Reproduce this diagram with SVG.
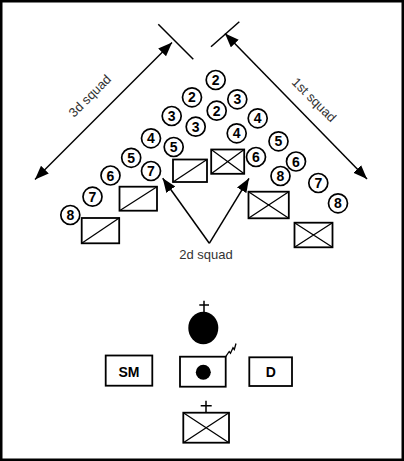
<svg xmlns="http://www.w3.org/2000/svg" width="404" height="461" viewBox="0 0 404 461">
<style>
.c{fill:#fff;stroke:#000;stroke-width:1.7}
.n{font-family:"Liberation Sans",Arial,sans-serif;font-weight:bold;font-size:14px;text-anchor:middle;fill:#000}
.b{fill:#fff;stroke:#000;stroke-width:1.8}
.x{stroke:#000;stroke-width:1.3;fill:none}
.l{stroke:#000;stroke-width:1.5;fill:none}
.t{font-family:"Liberation Sans",Arial,sans-serif;font-size:13px;text-anchor:middle;fill:#333}
.lb{font-family:"Liberation Sans",Arial,sans-serif;font-weight:bold;font-size:14px;text-anchor:middle;fill:#000}
</style>
<defs>
<marker id="ah" markerUnits="userSpaceOnUse" markerWidth="16" markerHeight="12" refX="14" refY="5.5" orient="auto-start-reverse">
<path d="M0,0 L14,5.5 L0,11 z" fill="#000"/>
</marker>
</defs>
<rect x="1.25" y="1.25" width="401.5" height="458.5" fill="#fff" stroke="#000" stroke-width="2.5"/>

<g id="connectors">
<line class="l" x1="158.3" y1="24.3" x2="193.3" y2="59.3"/>
<line class="l" x1="239.3" y1="21.7" x2="211" y2="46.7"/>
<line class="l" x1="35" y1="179.5" x2="172" y2="42.5" marker-start="url(#ah)" marker-end="url(#ah)"/>
<line class="l" x1="225" y1="33.5" x2="367" y2="179" marker-start="url(#ah)" marker-end="url(#ah)"/>
<line class="l" x1="209.3" y1="243.3" x2="162.7" y2="178.3" marker-end="url(#ah)"/>
<line class="l" x1="209.3" y1="243.3" x2="249" y2="178.3" marker-end="url(#ah)"/>
</g>

<g id="labels">
<text class="t" x="93" y="99" transform="rotate(-45 93 99)">3d squad</text>
<text class="t" x="311" y="103" transform="rotate(45 311 103)">1st squad</text>
<text class="t" x="206" y="259">2d squad</text>
</g>

<g id="soldiers">
<g id="s1"><circle class="c" cx="215.7" cy="80" r="9.5"/><text class="n" x="215.7" y="85">2</text></g>
<g id="s2"><circle class="c" cx="192" cy="97.3" r="9.5"/><text class="n" x="192" y="102.3">2</text></g>
<g id="s3"><circle class="c" cx="237.3" cy="99.3" r="9.5"/><text class="n" x="237.3" y="104.3">3</text></g>
<g id="s4"><circle class="c" cx="171.7" cy="116" r="9.5"/><text class="n" x="171.7" y="121">3</text></g>
<g id="s5"><circle class="c" cx="216.7" cy="110.7" r="9.5"/><text class="n" x="216.7" y="115.7">2</text></g>
<g id="s6"><circle class="c" cx="195.7" cy="126.7" r="9.5"/><text class="n" x="195.7" y="131.7">3</text></g>
<g id="s7"><circle class="c" cx="257.7" cy="118.3" r="9.5"/><text class="n" x="257.7" y="123.3">4</text></g>
<g id="s8"><circle class="c" cx="151" cy="138.3" r="9.5"/><text class="n" x="151" y="143.3">4</text></g>
<g id="s9"><circle class="c" cx="236.7" cy="133.3" r="9.5"/><text class="n" x="236.7" y="138.3">4</text></g>
<g id="s10"><circle class="c" cx="278.5" cy="141.3" r="9.5"/><text class="n" x="278.5" y="146.3">5</text></g>
<g id="s11"><circle class="c" cx="173.7" cy="147" r="9.5"/><text class="n" x="173.7" y="152">5</text></g>
<g id="s12"><circle class="c" cx="131.2" cy="157.8" r="9.5"/><text class="n" x="131.2" y="162.8">5</text></g>
<g id="s13"><circle class="c" cx="256" cy="157" r="9.5"/><text class="n" x="256" y="162">6</text></g>
<g id="s14"><circle class="c" cx="296" cy="161.5" r="9.5"/><text class="n" x="296" y="166.5">6</text></g>
<g id="s15"><circle class="c" cx="151" cy="171" r="9.5"/><text class="n" x="151" y="176">7</text></g>
<g id="s16"><circle class="c" cx="110.5" cy="175.5" r="9.5"/><text class="n" x="110.5" y="180.5">6</text></g>
<g id="s17"><circle class="c" cx="280.5" cy="176" r="9.5"/><text class="n" x="280.5" y="181">8</text></g>
<g id="s18"><circle class="c" cx="318.3" cy="183" r="9.5"/><text class="n" x="318.3" y="188">7</text></g>
<g id="s19"><circle class="c" cx="92.5" cy="196.7" r="9.5"/><text class="n" x="92.5" y="201.7">7</text></g>
<g id="s20"><circle class="c" cx="338" cy="203.3" r="9.5"/><text class="n" x="338" y="208.3">8</text></g>
<g id="s21"><circle class="c" cx="70.3" cy="215" r="9.5"/><text class="n" x="70.3" y="220">8</text></g>
</g>

<g id="vehicles">
<g id="v3a"><rect class="b" x="173" y="159.5" width="34" height="22.5"/><line class="x" x1="173" y1="182" x2="207" y2="159.5"/></g>
<g id="v3b"><rect class="b" x="119.5" y="186.7" width="37.5" height="24"/><line class="x" x1="119.5" y1="210.7" x2="157" y2="186.7"/></g>
<g id="v3c"><rect class="b" x="81.7" y="218" width="37.5" height="25.3"/><line class="x" x1="81.7" y1="243.3" x2="119.2" y2="218"/></g>
<g id="v1a"><rect class="b" x="211.2" y="149.5" width="33" height="24.3"/><path class="x" d="M211.2,149.5 L244.2,173.8 M244.2,149.5 L211.2,173.8"/></g>
<g id="v1b"><rect class="b" x="248.5" y="191.7" width="40.3" height="26.6"/><path class="x" d="M248.5,191.7 L288.8,218.3 M288.8,191.7 L248.5,218.3"/></g>
<g id="v1c"><rect class="b" x="294.5" y="222.7" width="38" height="24.6"/><path class="x" d="M294.5,222.7 L332.5,247.3 M332.5,222.7 L294.5,247.3"/></g>
</g>

<g id="leader">
<path class="l" d="M204,300.7 V313 M199.3,305 H209"/>
<ellipse cx="203.3" cy="328" rx="15" ry="16.2" fill="#000"/>
</g>

<g id="sm"><rect class="b" x="105.7" y="355.5" width="46.6" height="30.2"/><text class="lb" x="129" y="377.3">SM</text></g>

<g id="cp">
<rect class="b" x="180" y="356.7" width="45.7" height="30"/>
<circle cx="203.3" cy="372.3" r="7.5" fill="#000"/>
<path d="M225.7,356.7 L229.2,351.5 L230.5,353.2 L233,347.8 L234.3,349.5 L236,343.5" fill="none" stroke="#000" stroke-width="1.3"/>
</g>

<g id="d"><rect class="b" x="249.3" y="357.3" width="42.7" height="28.7"/><text class="lb" x="270.7" y="377.3">D</text></g>

<g id="aid">
<path class="l" d="M206,400.7 V412.7 M200.7,405.7 H211.7"/>
<rect class="b" x="183.3" y="412.7" width="45.7" height="30"/>
<path class="x" d="M183.3,412.7 L229,442.7 M229,412.7 L183.3,442.7"/>
</g>
</svg>
